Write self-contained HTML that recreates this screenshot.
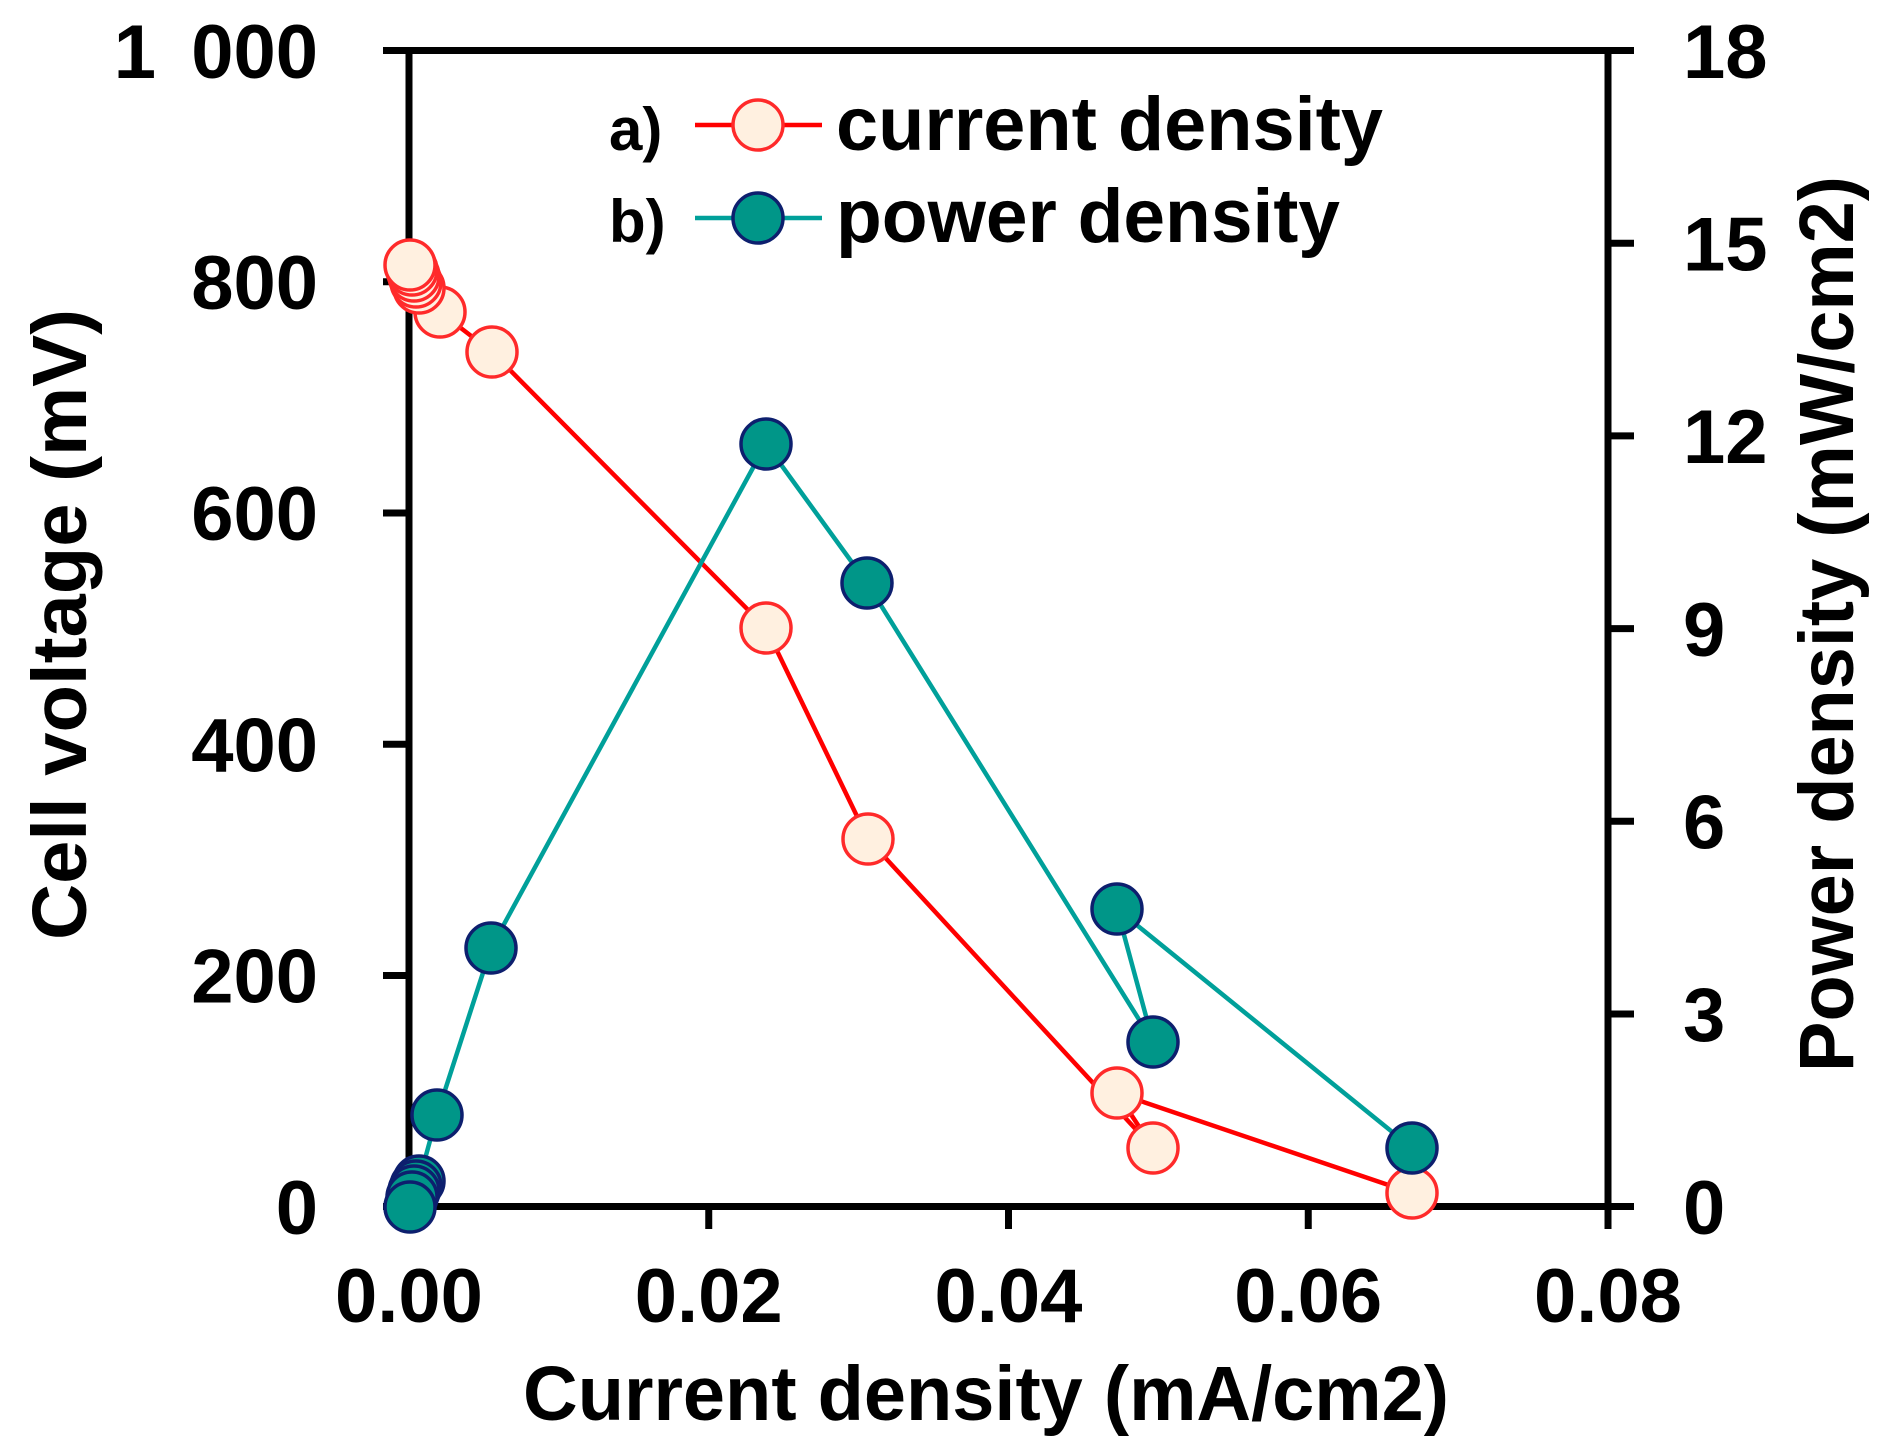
<!DOCTYPE html>
<html>
<head>
<meta charset="utf-8">
<style>
  html, body { margin: 0; padding: 0; background: #ffffff; }
  svg { display: block; }
  text { font-family: "Liberation Sans", Arial, sans-serif; font-weight: bold; fill: #000; }
</style>
</head>
<body>
<svg width="1885" height="1454" viewBox="0 0 1885 1454" xmlns="http://www.w3.org/2000/svg">
  <rect x="0" y="0" width="1885" height="1454" fill="#ffffff"/>

  <!-- Axes frame -->
  <g stroke="#000" stroke-width="7" fill="none" stroke-linecap="butt">
    <line x1="383" y1="50.5" x2="1634" y2="50.5"/>
    <line x1="383" y1="1206.5" x2="1634" y2="1206.5"/>
    <line x1="409" y1="47" x2="409" y2="1210"/>
    <line x1="1608" y1="47" x2="1608" y2="1210"/>
    <!-- left ticks -->
    <line x1="383" y1="975.5" x2="409" y2="975.5"/>
    <line x1="383" y1="744.2" x2="409" y2="744.2"/>
    <line x1="383" y1="513" x2="409" y2="513"/>
    <line x1="383" y1="281.7" x2="409" y2="281.7"/>
    <!-- right ticks -->
    <line x1="1608" y1="1014" x2="1634" y2="1014"/>
    <line x1="1608" y1="821.3" x2="1634" y2="821.3"/>
    <line x1="1608" y1="628.6" x2="1634" y2="628.6"/>
    <line x1="1608" y1="435.9" x2="1634" y2="435.9"/>
    <line x1="1608" y1="243.2" x2="1634" y2="243.2"/>
    <!-- bottom ticks -->
    <line x1="409" y1="1206" x2="409" y2="1229"/>
    <line x1="708.75" y1="1206" x2="708.75" y2="1229"/>
    <line x1="1008.5" y1="1206" x2="1008.5" y2="1229"/>
    <line x1="1308.25" y1="1206" x2="1308.25" y2="1229"/>
    <line x1="1608" y1="1206" x2="1608" y2="1229"/>
  </g>

  <!-- Left tick labels -->
  <g font-size="76" text-anchor="end">
    <text x="318" y="78">1<tspan dx="14"> 000</tspan></text>
    <text x="318" y="309">800</text>
    <text x="318" y="540.2">600</text>
    <text x="318" y="771.4">400</text>
    <text x="318" y="1002.7">200</text>
    <text x="318" y="1234">0</text>
  </g>

  <!-- Right tick labels -->
  <g font-size="76" text-anchor="start">
    <text x="1683" y="78">18</text>
    <text x="1683" y="270.4">15</text>
    <text x="1683" y="463.1">12</text>
    <text x="1683" y="655.8">9</text>
    <text x="1683" y="848.5">6</text>
    <text x="1683" y="1041.2">3</text>
    <text x="1683" y="1234">0</text>
  </g>

  <!-- Bottom tick labels -->
  <g font-size="76" text-anchor="middle">
    <text x="409" y="1322">0.00</text>
    <text x="708.75" y="1322">0.02</text>
    <text x="1008.5" y="1322">0.04</text>
    <text x="1308.25" y="1322">0.06</text>
    <text x="1608" y="1322">0.08</text>
  </g>

  <!-- Axis titles -->
  <text x="523" y="1420" font-size="77" textLength="926" lengthAdjust="spacingAndGlyphs">Current density (mA/cm2)</text>
  <text transform="translate(86,940) rotate(-90)" x="0" y="0" font-size="77" textLength="631" lengthAdjust="spacingAndGlyphs">Cell voltage (mV)</text>
  <text transform="translate(1853,1072) rotate(-90)" x="0" y="0" font-size="77" textLength="896" lengthAdjust="spacingAndGlyphs">Power density (mW/cm2)</text>

  <!-- Legend -->
  <text x="609" y="150" font-size="60">a)</text>
  <text x="609" y="242" font-size="60">b)</text>
  <line x1="695" y1="125" x2="822" y2="125" stroke="#ff0000" stroke-width="4.5"/>
  <circle cx="758" cy="125" r="25" fill="#fff0e0" stroke="#ff2a2a" stroke-width="3.5"/>
  <line x1="695" y1="218" x2="822" y2="218" stroke="#00a09a" stroke-width="4.5"/>
  <circle cx="758" cy="218" r="25" fill="#009688" stroke="#0d1f6e" stroke-width="3.5"/>
  <text x="836" y="150" font-size="76" textLength="547" lengthAdjust="spacingAndGlyphs">current density</text>
  <text x="836" y="242" font-size="76" textLength="504" lengthAdjust="spacingAndGlyphs">power density</text>

  <!-- Red series: cell voltage -->
  <polyline fill="none" stroke="#ff0000" stroke-width="4.5" stroke-linejoin="round"
    points="410,265 412,270 414,276 416,282 419,288 440,312 492,352 766,628 868,839 1153,1148 1117,1093 1412,1193"/>
  <g fill="#fff0e0" stroke="#ff2a2a" stroke-width="3.5">
    <circle cx="1412" cy="1193" r="25"/>
    <circle cx="1117" cy="1093" r="25"/>
    <circle cx="1153" cy="1148" r="25"/>
    <circle cx="868" cy="839" r="25"/>
    <circle cx="766" cy="628" r="25"/>
    <circle cx="492" cy="352" r="25"/>
    <circle cx="440" cy="312" r="25"/>
    <circle cx="419" cy="288" r="25"/>
    <circle cx="416" cy="282" r="25"/>
    <circle cx="414" cy="276" r="25"/>
    <circle cx="412" cy="270" r="25"/>
    <circle cx="410" cy="265" r="25"/>
  </g>

  <!-- Teal series: power density -->
  <polyline fill="none" stroke="#00a09a" stroke-width="4.5" stroke-linejoin="round"
    points="410,1207 412,1197 414,1191 416,1186 419,1181 437,1115 491,948 766,444 867,583 1153,1042 1117,909 1412,1148"/>
  <g fill="#009688" stroke="#0d1f6e" stroke-width="3.5">
    <circle cx="1412" cy="1148" r="25"/>
    <circle cx="1117" cy="909" r="25"/>
    <circle cx="1153" cy="1042" r="25"/>
    <circle cx="867" cy="583" r="25"/>
    <circle cx="766" cy="444" r="25"/>
    <circle cx="491" cy="948" r="25"/>
    <circle cx="437" cy="1115" r="25"/>
    <circle cx="419" cy="1181" r="25"/>
    <circle cx="416" cy="1186" r="25"/>
    <circle cx="414" cy="1191" r="25"/>
    <circle cx="412" cy="1197" r="25"/>
    <circle cx="410" cy="1207" r="25"/>
  </g>
</svg>
</body>
</html>
